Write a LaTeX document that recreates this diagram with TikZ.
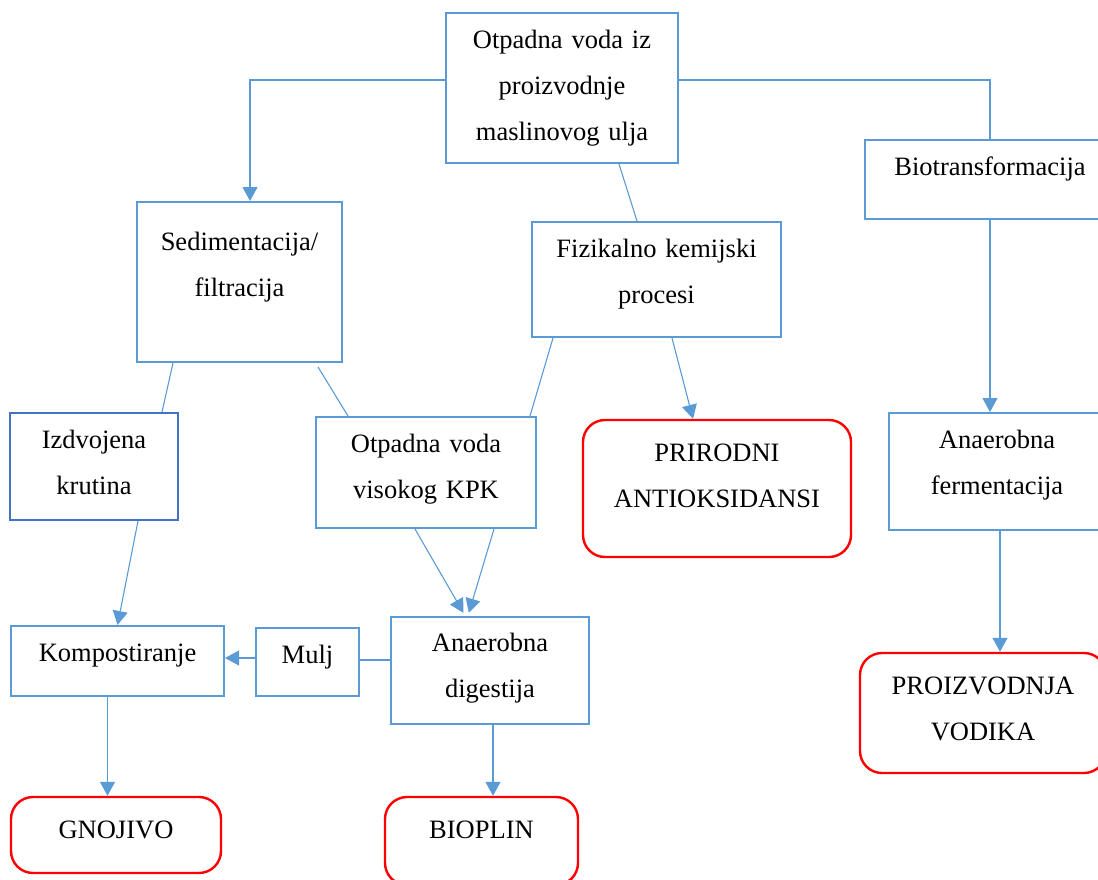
\documentclass[tikz,border=0pt]{standalone}
\usepackage{fontspec}
\setmainfont{Liberation Serif}
\usetikzlibrary{arrows.meta}

\definecolor{boxblue}{HTML}{5B9BD5}
\definecolor{darkblue}{HTML}{4472C4}
\definecolor{boxred}{HTML}{FF0000}

\tikzset{
  box/.style={draw=boxblue, line width=2pt, align=center, inner xsep=0pt, inner ysep=0pt,
    text height=35pt, font=\fontsize{26.5}{46}\selectfont},
  result/.style={box, draw=boxred, line width=2.4pt, rounded corners=22pt, text height=41pt},
  conn/.style={draw=boxblue, line width=1.1pt},
  flow/.style={conn, -{Triangle[length=14pt,width=15pt]}}
}

\begin{document}
\begin{tikzpicture}[x=1pt, y=-1pt]

        \useasboundingbox (0,0) rectangle (1098,879);
        \clip (0,0) rectangle (1098,879);

        % Gornji red
        \node[box, text width=232pt, text depth=115pt] (quelle) at (562,88) {Otpadna voda iz\\proizvodnje\\maslinovog ulja};
        \node[box, text width=205pt, text height=48pt, text depth=112pt] (sed) at (239.5,282) {Sedimentacija/\\filtracija};
        \node[box, text width=249pt, text depth=80pt] (fiz) at (656.5,279.5) {Fizikalno kemijski\\procesi};
        \node[box, text width=250pt, text depth=44pt] (bio) at (990,179.5) {Biotransformacija};

        % Srednji red
        \node[box, draw=darkblue, text width=168pt, text depth=72pt] (izd) at (94,466.5) {Izdvojena\\krutina};
        \node[box, text width=220pt, text depth=76pt] (kpk) at (426,472.5) {Otpadna voda\\visokog KPK};
        \node[result, text width=268pt, text depth=96pt] (prirodni) at (717,488.5) {PRIRODNI\\ANTIOKSIDANSI};
        \node[box, text width=216pt, text depth=82pt] (anf) at (997,471.5) {Anaerobna\\fermentacija};

        % Donji red
        \node[box, text width=213pt, text depth=35pt] (komp) at (117.5,661) {Kompostiranje};
        \node[box, text width=103pt, text depth=33pt] (mulj) at (307.5,662) {Mulj};
        \node[box, text width=198pt, text depth=72pt] (and) at (490,670) {Anaerobna\\digestija};
        \node[result, text width=246pt, text depth=79pt] (vodik) at (983,713) {PROIZVODNJA\\VODIKA};

        % Proizvodi
        \node[result, text width=210pt, text depth=35pt] (gnojivo) at (116,835) {GNOJIVO};
        \node[result, text width=193pt, text depth=47pt] (bioplin) at (481.5,841) {BIOPLIN};

        % Veze od otpadne vode
        \draw[flow] ([yshift=8pt]quelle.west) -| ([xshift=10.5pt]sed.north);
        \draw[conn] ([yshift=8pt]quelle.east) -| (bio.north);
        \draw[conn] ([xshift=57pt]quelle.south) -- ([xshift=-19.5pt]fiz.north);

        % Veze srednjeg reda
        \draw[conn] ([xshift=-66.5pt]sed.south) -- ([xshift=68pt]izd.north);
        \draw[conn] ([xshift=78.5pt,yshift=-4pt]sed.south) -- ([xshift=-78pt]kpk.north);
        \draw[conn] ([xshift=-103.5pt]fiz.south) -- ([xshift=104pt]kpk.north);
        \draw[flow] ([xshift=15.5pt]fiz.south) -- ([xshift=-24pt]prirodni.north);
        \draw[flow] (bio.south) -- (bio.south |- anf.north);

        % Veze donjeg reda
        \draw[flow] ([xshift=44pt]izd.south) -- (komp.north);
        \draw[flow, shorten >=3pt] ([xshift=-11pt]kpk.south) -- ([xshift=-25pt]and.north);
        \draw[flow, shorten >=3pt] ([xshift=68pt]kpk.south) -- ([xshift=-22pt]and.north);
        \draw[conn] ([yshift=10pt]and.west) -- ([yshift=10pt]and.west -| mulj.east);
        \draw[flow] ([yshift=4pt]mulj.west) -- ([yshift=4pt]mulj.west -| komp.east);
        \draw[flow] ([xshift=-10pt]komp.south) -- ([xshift=-10pt]komp.south |- gnojivo.north);
        \draw[flow] ([xshift=3pt]and.south) -- ([xshift=3pt]and.south |- bioplin.north);
        \draw[flow] ([xshift=3pt]anf.south) -- ([xshift=3pt]anf.south |- vodik.north);

\end{tikzpicture}
\end{document}
